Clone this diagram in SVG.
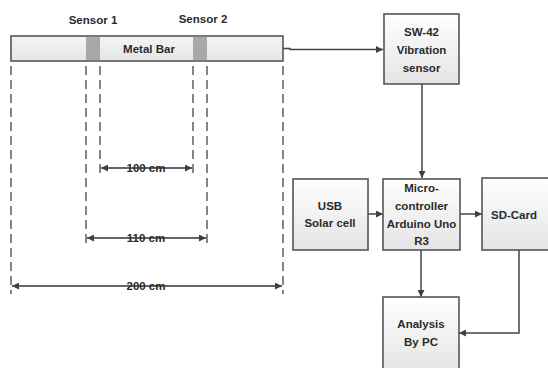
<svg xmlns="http://www.w3.org/2000/svg" width="548" height="368" viewBox="0 0 548 368">
<defs>
<linearGradient id="boxg" x1="0" y1="0" x2="0" y2="1">
<stop offset="0" stop-color="#ffffff"/>
<stop offset="1" stop-color="#e4e4e4"/>
</linearGradient>
<linearGradient id="barg" x1="0" y1="0" x2="0" y2="1">
<stop offset="0" stop-color="#f4f4f4"/>
<stop offset="1" stop-color="#e6e6e6"/>
</linearGradient>
<marker id="ah" viewBox="0 0 10 10" refX="10" refY="5" markerWidth="7" markerHeight="7" markerUnits="userSpaceOnUse" orient="auto-start-reverse">
<path d="M0,0 L10,5 L0,10 z" fill="#404040"/>
</marker>
</defs>
<style>
.box{fill:url(#boxg);stroke:#555;stroke-width:1.6}
.t{font-family:"Liberation Sans",Arial,sans-serif;font-weight:bold;font-size:11.5px;fill:#2b2b2b;text-anchor:middle}
.c{stroke:#444;stroke-width:1.5;fill:none}
.d{stroke:#444;stroke-width:1.3;fill:none;stroke-dasharray:9,5}
.dim{stroke:#333;stroke-width:1.5;fill:none}
</style>
<rect width="548" height="368" fill="#fff"/>

<g id="metal-bar">
<rect x="11" y="36" width="272" height="25" fill="url(#barg)" stroke="#555" stroke-width="1.6"/>
<text class="t" x="149" y="53">Metal Bar</text>
</g>
<g id="sensor1">
<rect x="86" y="36.8" width="14" height="23.4" fill="#a8a8a8"/>
<text class="t" x="93" y="24">Sensor 1</text>
</g>
<g id="sensor2">
<rect x="193" y="36.8" width="14" height="23.4" fill="#a8a8a8"/>
<text class="t" x="203" y="23">Sensor 2</text>
</g>

<g id="dimensions">
<line class="d" x1="11" y1="66" x2="11" y2="294"/>
<line class="d" x1="86" y1="66" x2="86" y2="243"/>
<line class="d" x1="100" y1="66" x2="100" y2="174"/>
<line class="d" x1="193" y1="66" x2="193" y2="174"/>
<line class="d" x1="207" y1="66" x2="207" y2="245"/>
<line class="d" x1="283" y1="66" x2="283" y2="294"/>
<line class="dim" x1="101" y1="168" x2="192" y2="168" marker-start="url(#ah)" marker-end="url(#ah)"/>
<line class="dim" x1="87" y1="238" x2="206" y2="238" marker-start="url(#ah)" marker-end="url(#ah)"/>
<line class="dim" x1="12" y1="286" x2="282" y2="286" marker-start="url(#ah)" marker-end="url(#ah)"/>
<text class="t" x="146" y="172">100 cm</text>
<text class="t" x="146" y="242">110 cm</text>
<text class="t" x="146" y="290">200 cm</text>
</g>

<g id="connectors">
<path class="c" d="M283,48.5 L290,48.5 L290,49.5 L383,49.5" marker-end="url(#ah)"/>
<line class="c" x1="422" y1="84" x2="422" y2="178" marker-end="url(#ah)"/>
<line class="c" x1="368" y1="214" x2="383" y2="214" marker-end="url(#ah)"/>
<line class="c" x1="460" y1="214" x2="482" y2="214" marker-end="url(#ah)"/>
<line class="c" x1="421" y1="250" x2="421" y2="297" marker-end="url(#ah)"/>
<path class="c" d="M519,250 L519,333 L459,333" marker-end="url(#ah)"/>
</g>

<g id="sw42">
<rect class="box" x="384" y="14" width="75" height="70"/>
<text class="t" x="421.5" y="36">SW-42</text>
<text class="t" x="421.5" y="54">Vibration</text>
<text class="t" x="421.5" y="72">sensor</text>
</g>
<g id="usb">
<rect class="box" x="293" y="179" width="75" height="71"/>
<text class="t" x="330" y="210">USB</text>
<text class="t" x="330" y="227">Solar cell</text>
</g>
<g id="micro">
<rect class="box" x="383" y="179" width="77" height="71"/>
<text class="t" x="421.5" y="192">Micro-</text>
<text class="t" x="421.5" y="210">controller</text>
<text class="t" x="421.5" y="228">Arduino Uno</text>
<text class="t" x="421.5" y="245">R3</text>
</g>
<g id="sdcard">
<rect class="box" x="482" y="178" width="72" height="72"/>
<text class="t" x="514" y="219">SD-Card</text>
</g>
<g id="analysis">
<rect class="box" x="383" y="297" width="76" height="76"/>
<text class="t" x="421" y="328">Analysis</text>
<text class="t" x="421" y="346">By PC</text>
</g>
</svg>
